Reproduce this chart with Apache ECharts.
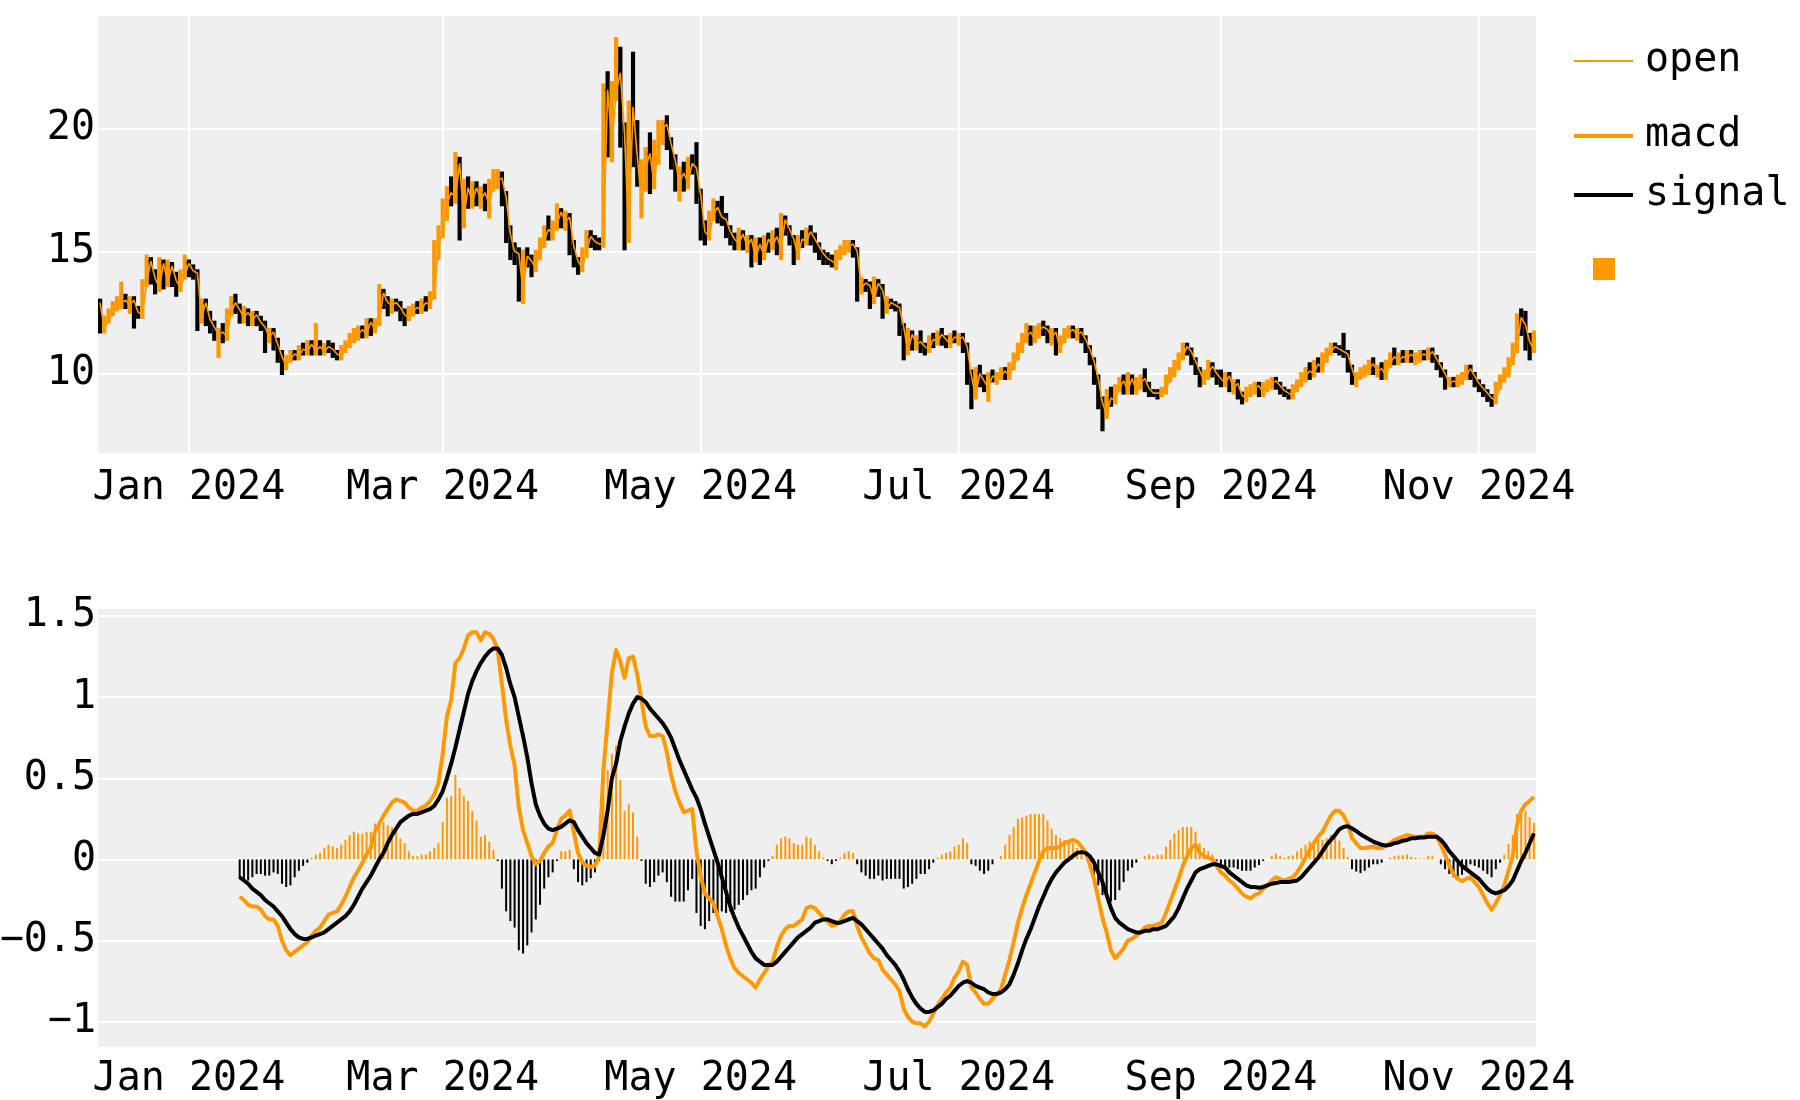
<!DOCTYPE html>
<html>
<head>
<meta charset="utf-8">
<script src="https://cdn.jsdelivr.net/npm/echarts@6.0.0/dist/echarts.min.js"></script>
<style>
html,body{margin:0;padding:0;background:#fff;}
#chart{width:1800px;height:1100px;}
</style>
</head>
<body>
<div id="chart"></div>
<script>
// ---------------- data ----------------
// daily bars, first bar 2023-12-11
const startDay = [2023, 11, 11];
const open = [
12.9,11.8,12.2,12.5,12.8,12.9,13.0,12.8,13.0,12.5,
12.4,13.7,14.6,13.9,13.5,14.5,13.7,14.4,13.8,13.5,
14.0,14.5,14.2,14.1,12.3,12.9,12.2,11.9,11.6,11.7,
11.5,12.5,12.9,12.6,12.3,12.5,12.2,12.4,12.1,11.9,
11.5,11.7,11.2,10.7,10.3,10.6,10.8,10.7,11.0,10.9,
11.2,10.9,11.1,10.9,11.1,11.0,10.8,10.7,11.0,11.2,
11.5,11.6,11.8,11.6,12.1,11.8,12.1,13.3,12.9,12.8,
12.9,12.7,12.4,12.3,12.6,12.7,12.6,12.9,12.8,13.2,
15.2,15.8,16.9,17.4,17.2,18.6,16.3,17.6,17.0,17.6,
17.1,17.4,16.9,17.8,17.9,18.0,17.2,15.7,15.0,14.9,
13.4,14.8,14.6,14.3,14.9,15.4,15.9,15.7,16.1,16.6,
16.2,16.4,15.2,14.6,14.3,15.0,15.6,15.4,15.3,15.3,
21.6,19.4,21.5,22.3,19.8,15.6,20.9,18.9,17.0,18.4,
19.0,17.7,19.3,20.0,20.2,19.4,18.7,17.8,18.2,17.8,
18.6,18.4,17.3,15.8,15.6,16.5,16.8,16.4,16.3,15.8,
15.5,15.3,15.7,15.2,15.5,14.7,15.3,14.8,15.5,15.2,
15.6,15.1,16.3,15.9,15.5,14.8,15.5,15.4,15.8,15.5,
15.2,14.9,14.7,14.6,14.5,14.9,15.1,15.2,15.3,15.0,
13.5,13.7,13.6,13.0,13.7,13.4,12.6,12.9,12.8,12.7,
11.9,10.9,11.6,11.2,11.3,11.1,11.0,11.4,11.3,11.6,
11.4,11.2,11.5,11.4,11.5,11.1,9.9,9.1,10.0,9.7,
9.4,9.9,9.8,9.9,10.1,9.9,10.3,10.7,11.1,11.5,
11.7,11.4,11.8,11.9,11.8,11.5,11.7,11.0,11.4,11.7,
11.8,11.6,11.7,11.4,11.0,10.5,9.8,8.8,8.3,9.0,
8.9,9.4,9.7,9.3,9.8,9.3,9.6,9.8,9.4,9.2,
9.2,9.2,9.3,9.8,10.1,10.4,10.7,11.1,10.9,10.5,
10.1,9.7,10.0,10.3,10.0,9.8,9.6,9.9,9.4,9.6,
9.1,9.0,9.3,9.4,9.5,9.2,9.5,9.6,9.7,9.5,
9.3,9.2,9.1,9.4,9.6,9.9,10.1,10.0,10.4,10.2,
10.7,10.9,11.1,11.0,10.9,10.8,10.2,9.7,9.9,10.1,
10.2,10.4,10.1,10.2,9.9,10.4,10.7,10.5,10.7,10.6,
10.8,10.6,10.7,10.8,10.7,10.9,10.6,10.3,10.0,9.6,
9.7,9.6,9.8,9.9,10.2,9.9,9.6,9.4,9.2,9.0,
8.9,9.5,9.8,10.0,10.5,11.0,12.3,12.0,11.3,11.0
];
const high = [
13.0,12.3,12.6,12.9,13.1,13.7,13.2,13.1,13.1,12.7,
13.8,14.8,14.7,14.2,14.7,14.6,14.6,14.5,14.1,14.2,
14.8,14.6,14.4,14.2,13.0,13.0,12.5,12.1,11.8,12.0,
12.6,13.1,13.2,12.8,12.7,12.6,12.5,12.5,12.3,12.1,
11.8,11.8,11.4,10.9,10.7,10.9,10.9,11.1,11.2,11.3,
11.3,12.0,11.3,11.2,11.3,11.2,10.9,11.1,11.3,11.6,
11.8,11.9,11.9,12.2,12.2,12.2,13.6,13.4,13.1,13.0,
13.0,12.9,12.6,12.7,12.8,12.9,13.0,13.1,13.3,15.4,
16.0,17.1,17.6,18.0,19.0,18.8,17.9,18.0,17.8,17.8,
17.6,17.7,17.9,18.3,18.3,18.2,17.4,16.0,15.3,15.1,
15.0,15.1,14.8,15.0,15.5,16.0,16.4,16.2,16.9,16.7,
16.6,16.5,15.4,14.7,15.1,15.8,15.8,15.6,15.5,21.8,
22.3,21.9,23.7,23.3,20.2,21.1,23.1,20.3,18.7,19.2,
19.8,19.5,20.3,20.3,20.5,19.6,18.9,18.4,18.6,18.8,
18.9,19.4,17.5,16.2,16.6,17.1,17.0,17.2,16.5,16.0,
15.7,15.9,15.8,15.6,15.6,15.5,15.5,15.6,15.7,15.8,
15.9,16.5,16.4,16.0,15.6,15.6,15.8,15.9,16.0,15.7,
15.3,15.0,14.9,14.8,15.0,15.2,15.4,15.4,15.4,15.1,
13.9,13.8,13.7,13.9,13.8,13.6,13.1,13.0,12.9,12.8,
12.0,11.8,11.7,11.5,11.7,11.2,11.5,11.6,11.7,11.8,
11.5,11.6,11.7,11.6,11.6,11.2,10.1,10.2,10.3,9.9,
10.0,10.1,10.0,10.2,10.2,10.4,10.8,11.2,11.6,12.0,
11.9,11.9,12.0,12.1,11.9,11.8,11.8,11.5,11.8,11.9,
11.9,11.8,11.8,11.5,11.1,10.6,9.9,9.0,9.3,9.4,
9.5,9.8,9.9,10.0,9.9,9.8,9.9,10.15,9.6,9.3,
9.3,9.4,9.9,10.2,10.5,10.8,11.2,11.2,11.0,10.6,
10.2,10.1,10.5,10.4,10.1,10.1,10.0,10.0,9.7,9.7,
9.2,9.4,9.5,9.6,9.6,9.6,9.7,9.8,9.8,9.6,
9.4,9.3,9.5,9.7,10.0,10.2,10.4,10.5,10.6,10.8,
11.0,11.2,11.2,11.1,11.6,10.9,10.3,10.0,10.2,10.3,
10.5,10.6,10.3,10.4,10.5,10.8,11.0,10.8,10.9,10.9,
10.9,10.8,10.9,10.9,11.0,11.0,10.7,10.4,10.1,9.8,
9.8,9.9,10.0,10.3,10.3,10.0,9.7,9.5,9.3,9.1,
9.6,9.9,10.2,10.6,11.2,12.4,12.6,12.5,11.6,11.7
];
const low = [
11.7,11.7,12.1,12.4,12.6,12.7,12.7,12.5,11.9,12.3,
12.3,13.6,13.7,13.3,13.4,13.5,13.6,13.6,13.2,13.4,
13.9,14.0,13.9,11.8,12.1,12.0,11.7,11.4,10.7,11.3,
11.4,12.4,12.5,12.1,12.1,12.0,12.0,12.0,11.8,10.9,
11.3,11.0,10.5,10.0,10.2,10.5,10.6,10.6,10.8,10.8,
10.8,10.8,10.8,10.8,10.9,10.7,10.6,10.6,10.9,11.1,
11.3,11.4,11.5,11.5,11.6,11.7,12.0,12.7,12.4,12.5,
12.6,12.2,12.0,12.2,12.4,12.5,12.5,12.6,12.7,13.1,
14.7,15.6,16.3,16.9,17.0,15.5,16.0,16.8,16.8,16.9,
16.8,16.7,16.4,17.5,17.6,16.9,15.4,14.7,14.5,13.0,
12.9,14.4,14.0,14.2,14.7,15.2,15.5,15.5,15.9,16.0,
15.9,14.9,14.4,14.1,14.2,14.8,15.2,15.1,15.1,15.2,
18.9,18.7,21.2,19.3,15.1,15.4,18.5,17.7,16.4,17.5,
17.4,17.6,18.6,19.4,19.2,18.4,17.5,17.1,17.5,17.6,
18.2,17.0,15.5,15.3,15.5,16.3,16.2,16.1,15.6,15.3,
15.1,15.1,15.1,15.0,14.4,14.6,14.5,14.7,15.0,15.1,
14.9,14.7,15.7,15.3,14.5,14.7,15.2,15.3,15.3,15.0,
14.7,14.5,14.5,14.4,14.3,14.7,14.9,15.0,14.8,13.0,
13.3,13.4,12.7,12.9,13.2,12.3,12.5,12.7,12.6,11.6,
10.6,10.8,11.0,11.0,10.9,10.8,10.9,11.1,11.2,11.2,
11.1,11.1,11.3,11.2,10.9,9.6,8.6,9.0,9.5,9.3,
8.9,9.7,9.6,9.8,9.8,9.8,10.2,10.6,10.9,11.3,
11.2,11.3,11.5,11.6,11.3,11.2,10.8,10.9,11.3,11.5,
11.5,11.4,11.3,10.9,10.4,9.6,8.6,7.7,8.2,8.7,
8.8,9.3,9.2,9.2,9.2,9.2,9.4,9.3,9.1,9.1,
9.0,9.1,9.2,9.7,9.9,10.2,10.6,10.8,10.4,10.0,
9.5,9.6,9.8,9.9,9.6,9.5,9.5,9.3,9.2,9.0,
8.8,8.9,9.1,9.2,9.1,9.1,9.3,9.4,9.4,9.2,
9.1,9.0,9.0,9.3,9.5,9.7,9.8,9.9,10.1,10.1,
10.5,10.8,10.9,10.8,10.7,10.1,9.6,9.5,9.8,9.9,
10.0,10.0,9.9,9.8,9.8,10.3,10.4,10.4,10.5,10.5,
10.5,10.4,10.5,10.6,10.6,10.5,10.2,9.9,9.4,9.5,
9.5,9.5,9.6,9.8,9.8,9.5,9.3,9.1,8.9,8.7,
8.8,9.4,9.7,9.9,10.4,10.9,11.6,11.0,10.6,10.9
];
const close = [
11.8,12.2,12.5,12.8,12.9,13.0,12.8,13.0,12.5,12.4,
13.7,14.6,13.9,13.5,14.5,13.7,14.4,13.8,13.5,14.0,
14.6,14.2,14.1,12.3,12.9,12.2,11.9,11.6,11.7,11.5,
12.5,12.9,12.6,12.3,12.5,12.2,12.4,12.1,11.9,11.5,
11.7,11.2,10.7,10.3,10.6,10.8,10.7,11.0,10.9,11.2,
10.9,11.1,10.9,11.1,11.0,10.8,10.7,11.0,11.2,11.5,
11.6,11.8,11.6,12.1,11.8,12.1,13.3,12.9,12.8,12.9,
12.7,12.4,12.3,12.6,12.7,12.6,12.9,12.8,13.2,15.2,
15.8,16.9,17.4,17.2,18.6,16.3,17.6,17.0,17.6,17.1,
17.4,16.9,17.8,17.9,18.0,17.2,15.7,15.0,14.9,13.4,
14.8,14.6,14.3,14.9,15.4,15.9,15.7,16.1,16.6,16.2,
16.4,15.2,14.6,14.3,15.0,15.6,15.4,15.3,15.3,21.6,
19.4,21.5,22.3,19.8,15.6,20.9,18.9,18.1,18.4,19.0,
17.7,19.3,20.0,20.2,19.4,18.7,17.8,18.2,17.8,18.6,
18.4,17.3,15.8,15.6,16.5,16.8,16.4,16.3,15.8,15.5,
15.3,15.7,15.2,15.5,14.7,15.3,14.8,15.5,15.2,15.6,
15.1,16.3,15.9,15.5,14.8,15.5,15.4,15.8,15.5,15.2,
14.9,14.7,14.6,14.5,14.9,15.1,15.2,15.3,15.0,13.5,
13.7,13.6,13.0,13.7,13.4,12.6,12.9,12.8,12.7,11.9,
10.9,11.6,11.2,11.3,11.1,11.0,11.4,11.3,11.6,11.4,
11.2,11.5,11.4,11.5,11.1,9.9,9.1,10.0,9.7,9.4,
9.9,9.8,9.9,10.1,9.9,10.3,10.7,11.1,11.5,11.7,
11.4,11.8,11.9,11.8,11.5,11.7,11.0,11.4,11.7,11.8,
11.6,11.7,11.4,11.0,10.5,9.8,8.8,8.3,9.0,8.9,
9.4,9.7,9.3,9.8,9.3,9.6,9.8,9.4,9.2,9.2,
9.2,9.3,9.8,10.1,10.4,10.7,11.1,10.9,10.5,10.1,
9.7,10.0,10.3,10.0,9.8,9.6,9.9,9.4,9.6,9.1,
9.0,9.3,9.4,9.5,9.2,9.5,9.6,9.7,9.5,9.3,
9.2,9.1,9.4,9.6,9.9,10.1,10.0,10.4,10.2,10.7,
10.9,11.1,11.0,10.9,10.8,10.2,9.7,9.9,10.1,10.2,
10.4,10.1,10.2,9.9,10.4,10.7,10.5,10.7,10.6,10.8,
10.6,10.7,10.8,10.7,10.9,10.6,10.3,10.0,9.6,9.7,
9.6,9.8,9.9,10.2,9.9,9.6,9.4,9.2,9.0,8.9,
9.5,9.8,10.0,10.5,11.0,12.3,12.0,11.3,11.0,11.6
];
// MACD panel values start at bar index 33 (2024-01-13)
const macdStart = 33;
const macd = [
-0.23,-0.25,-0.28,-0.29,-0.29,-0.31,-0.35,-0.37,-0.37,-0.41,
-0.50,-0.56,-0.59,-0.57,-0.55,-0.53,-0.51,-0.47,-0.44,-0.42,
-0.38,-0.34,-0.33,-0.32,-0.28,-0.23,-0.17,-0.11,-0.07,-0.02,
0.03,0.07,0.17,0.22,0.27,0.31,0.35,0.37,0.36,0.35,
0.32,0.30,0.30,0.32,0.33,0.36,0.40,0.47,0.65,0.88,
0.98,1.21,1.24,1.30,1.38,1.40,1.40,1.35,1.40,1.39,
1.36,1.29,1.08,0.86,0.70,0.58,0.32,0.18,0.10,0.02,
-0.03,-0.01,0.04,0.08,0.10,0.18,0.25,0.27,0.30,0.17,
0.04,-0.02,-0.04,-0.045,-0.04,0.02,0.55,0.85,1.15,1.29,
1.22,1.12,1.24,1.25,1.14,0.98,0.82,0.76,0.76,0.77,
0.76,0.66,0.52,0.42,0.35,0.29,0.30,0.31,0.05,-0.10,
-0.21,-0.24,-0.27,-0.35,-0.43,-0.53,-0.61,-0.67,-0.70,-0.72,
-0.74,-0.76,-0.79,-0.74,-0.70,-0.66,-0.63,-0.54,-0.47,-0.43,
-0.41,-0.41,-0.39,-0.37,-0.30,-0.29,-0.30,-0.33,-0.36,-0.38,
-0.41,-0.40,-0.38,-0.34,-0.32,-0.32,-0.41,-0.48,-0.53,-0.58,
-0.61,-0.62,-0.68,-0.71,-0.74,-0.77,-0.81,-0.92,-0.97,-1.00,
-1.01,-1.01,-1.03,-1.00,-0.95,-0.90,-0.86,-0.82,-0.79,-0.73,
-0.69,-0.63,-0.65,-0.79,-0.82,-0.86,-0.89,-0.89,-0.86,-0.83,
-0.80,-0.71,-0.62,-0.51,-0.39,-0.30,-0.22,-0.15,-0.08,-0.01,
0.05,0.07,0.07,0.07,0.08,0.10,0.11,0.12,0.11,0.08,
0.04,-0.03,-0.12,-0.24,-0.36,-0.45,-0.56,-0.61,-0.58,-0.55,
-0.50,-0.49,-0.47,-0.45,-0.42,-0.41,-0.41,-0.40,-0.39,-0.33,
-0.26,-0.19,-0.12,-0.04,0.02,0.07,0.09,0.04,0.02,0.01,
0.00,-0.04,-0.08,-0.10,-0.13,-0.15,-0.18,-0.21,-0.23,-0.24,
-0.22,-0.21,-0.18,-0.16,-0.13,-0.11,-0.12,-0.13,-0.12,-0.11,
-0.08,-0.04,0.01,0.06,0.10,0.14,0.17,0.22,0.27,0.30,
0.30,0.27,0.22,0.13,0.10,0.07,0.07,0.075,0.08,0.07,
0.07,0.085,0.10,0.12,0.13,0.14,0.15,0.145,0.14,0.14,
0.14,0.16,0.16,0.14,0.09,0.03,-0.04,-0.09,-0.12,-0.135,
-0.12,-0.11,-0.14,-0.17,-0.22,-0.27,-0.31,-0.27,-0.22,-0.16,
-0.07,0.02,0.21,0.30,0.34,0.36,0.385
];
const signal = [
-0.11,-0.13,-0.15,-0.18,-0.20,-0.22,-0.25,-0.27,-0.29,-0.32,
-0.35,-0.39,-0.43,-0.46,-0.48,-0.49,-0.49,-0.48,-0.47,-0.46,
-0.45,-0.43,-0.41,-0.39,-0.37,-0.35,-0.32,-0.28,-0.23,-0.18,
-0.14,-0.10,-0.05,0.00,0.04,0.10,0.15,0.19,0.23,0.25,
0.27,0.28,0.28,0.29,0.30,0.31,0.33,0.37,0.42,0.50,
0.59,0.69,0.80,0.91,1.02,1.10,1.16,1.21,1.25,1.28,
1.30,1.30,1.26,1.18,1.08,1.00,0.88,0.76,0.63,0.47,
0.34,0.27,0.22,0.19,0.18,0.19,0.20,0.22,0.24,0.23,
0.18,0.14,0.10,0.07,0.04,0.03,0.15,0.30,0.50,0.59,
0.73,0.82,0.90,0.96,1.00,0.99,0.97,0.93,0.90,0.87,
0.84,0.80,0.75,0.68,0.61,0.55,0.49,0.43,0.38,0.31,
0.22,0.14,0.06,-0.02,-0.11,-0.20,-0.29,-0.36,-0.42,-0.47,
-0.52,-0.57,-0.61,-0.63,-0.65,-0.65,-0.65,-0.63,-0.60,-0.57,
-0.54,-0.51,-0.48,-0.46,-0.44,-0.42,-0.39,-0.38,-0.37,-0.37,
-0.38,-0.39,-0.39,-0.38,-0.37,-0.36,-0.38,-0.40,-0.43,-0.46,
-0.49,-0.52,-0.55,-0.59,-0.62,-0.65,-0.69,-0.74,-0.80,-0.85,
-0.89,-0.92,-0.94,-0.94,-0.93,-0.91,-0.89,-0.86,-0.84,-0.81,
-0.78,-0.76,-0.75,-0.76,-0.78,-0.79,-0.80,-0.82,-0.83,-0.83,
-0.82,-0.80,-0.77,-0.71,-0.64,-0.56,-0.49,-0.43,-0.36,-0.29,
-0.23,-0.17,-0.12,-0.08,-0.05,-0.02,0.00,0.02,0.04,0.045,
0.04,0.02,-0.02,-0.08,-0.14,-0.22,-0.30,-0.36,-0.39,-0.41,
-0.43,-0.44,-0.45,-0.45,-0.44,-0.44,-0.43,-0.43,-0.42,-0.41,
-0.38,-0.35,-0.30,-0.24,-0.18,-0.13,-0.08,-0.06,-0.05,-0.04,
-0.03,-0.03,-0.04,-0.05,-0.08,-0.10,-0.12,-0.14,-0.16,-0.17,
-0.17,-0.175,-0.17,-0.16,-0.15,-0.145,-0.14,-0.14,-0.14,-0.135,
-0.13,-0.11,-0.08,-0.05,-0.02,0.01,0.05,0.09,0.12,0.15,
0.185,0.20,0.205,0.19,0.175,0.155,0.14,0.125,0.11,0.10,
0.09,0.085,0.09,0.10,0.105,0.115,0.12,0.13,0.13,0.135,
0.135,0.14,0.14,0.14,0.12,0.09,0.05,0.02,-0.01,-0.04,
-0.06,-0.08,-0.10,-0.12,-0.15,-0.18,-0.20,-0.21,-0.20,-0.19,
-0.165,-0.13,-0.07,-0.01,0.04,0.10,0.16
];
const hist = [
-0.12,-0.12,-0.13,-0.11,-0.09,-0.09,-0.10,-0.10,-0.08,-0.09,
-0.15,-0.17,-0.16,-0.11,-0.07,-0.04,-0.02,0.01,0.03,0.04,
0.07,0.09,0.08,0.07,0.09,0.12,0.15,0.17,0.16,0.16,
0.17,0.17,0.22,0.22,0.23,0.21,0.20,0.18,0.13,0.10,
0.05,0.02,0.02,0.03,0.03,0.05,0.07,0.10,0.23,0.38,
0.39,0.52,0.44,0.39,0.36,0.30,0.24,0.14,0.15,0.11,
0.06,-0.01,-0.18,-0.32,-0.38,-0.42,-0.56,-0.58,-0.53,-0.45,
-0.37,-0.28,-0.18,-0.11,-0.08,-0.01,0.05,0.05,0.06,-0.06,
-0.14,-0.16,-0.14,-0.115,-0.08,-0.01,0.40,0.55,0.65,0.70,
0.49,0.30,0.34,0.29,0.14,-0.01,-0.15,-0.17,-0.14,-0.10,
-0.08,-0.14,-0.23,-0.26,-0.26,-0.26,-0.19,-0.12,-0.33,-0.41,
-0.43,-0.38,-0.33,-0.33,-0.32,-0.33,-0.32,-0.31,-0.28,-0.25,
-0.22,-0.19,-0.18,-0.11,-0.05,-0.01,0.02,0.09,0.13,0.14,
0.13,0.10,0.09,0.09,0.14,0.13,0.09,0.05,0.01,-0.01,
-0.03,-0.01,0.01,0.04,0.05,0.04,-0.03,-0.08,-0.10,-0.12,
-0.12,-0.10,-0.13,-0.12,-0.12,-0.12,-0.12,-0.18,-0.17,-0.15,
-0.12,-0.09,-0.09,-0.06,-0.02,0.01,0.03,0.04,0.05,0.08,
0.09,0.13,0.10,-0.03,-0.04,-0.07,-0.09,-0.07,-0.03,0.00,
0.02,0.09,0.15,0.20,0.25,0.26,0.27,0.28,0.28,0.28,
0.28,0.24,0.19,0.15,0.13,0.12,0.11,0.10,0.07,0.035,
0.00,-0.05,-0.10,-0.16,-0.22,-0.23,-0.26,-0.25,-0.19,-0.14,
-0.07,-0.05,-0.02,0.00,0.02,0.03,0.02,0.03,0.03,0.08,
0.12,0.16,0.18,0.20,0.20,0.20,0.17,0.10,0.07,0.05,
0.03,-0.01,-0.04,-0.05,-0.05,-0.05,-0.06,-0.07,-0.07,-0.07,
-0.05,-0.035,-0.01,0.00,0.02,0.035,0.02,0.01,0.02,0.025,
0.05,0.07,0.09,0.11,0.12,0.13,0.12,0.13,0.15,0.15,
0.115,0.07,0.015,-0.06,-0.075,-0.085,-0.07,-0.05,-0.03,-0.03,
-0.02,0.00,0.01,0.02,0.025,0.025,0.03,0.015,0.01,0.005,
0.005,0.02,0.02,0.00,-0.03,-0.06,-0.09,-0.11,-0.11,-0.095,
-0.06,-0.03,-0.04,-0.05,-0.07,-0.09,-0.11,-0.06,-0.02,0.03,
0.095,0.15,0.28,0.31,0.30,0.26,0.225
];
// axis ticks
const xTickDays = [[2024,0,1],[2024,2,1],[2024,4,1],[2024,6,1],[2024,8,1],[2024,10,1]];
const xTickLabels = ['Jan 2024','Mar 2024','May 2024','Jul 2024','Sep 2024','Nov 2024'];
const priceTicks = [10, 15, 20];
const priceTickLabels = ['10', '15', '20'];
const macdTicks = [-1, -0.5, 0, 0.5, 1, 1.5];
const macdTickLabels = ['\u22121', '\u22120.5', '0', '0.5', '1', '1.5'];

// ---------------- chart ----------------
const FONT = 'DejaVu Sans Mono';
const ORANGE = '#ff9900';
const BLACK = '#000000';
const PLOTBG = '#efefef';

const dayTs = (y, m, d, h) => new Date(y, m, d, h || 0).getTime();
const dates = open.map((_, i) => dayTs(startDay[0], startDay[1], startDay[2] + i));
const xTicks = xTickDays.map(d => dayTs(d[0], d[1], d[2]));
const xMin = dayTs(2023, 11, 10, 12);
const xMax = dayTs(2024, 10, 14, 12);

const ohlcData = dates.map((t, i) => [t, open[i], high[i], low[i], close[i]]);
const openLine = dates.map((t, i) => [t, open[i]]);
const mDates = dates.slice(macdStart);
const macdData = mDates.map((t, i) => [t, macd[i]]);
const signalData = mDates.map((t, i) => [t, signal[i]]);
const histData = mDates.map((t, i) => [t, hist[i]]);

const labelText = (vals, labels) => v => {
  for (let i = 0; i < vals.length; i++) if (Math.abs(vals[i] - v) < 1e-6) return labels[i];
  return '';
};
const xFmt = v => {
  for (let i = 0; i < xTicks.length; i++) if (Math.abs(xTicks[i] - v) < 3600000) return xTickLabels[i];
  return '';
};
const txt = { fontFamily: FONT, fontSize: 40, color: '#000', lineHeight: 40 };
const gridLine = { show: true, lineStyle: { color: '#ffffff', width: 2 } };

function xAxis(gi, withGrid, margin) {
  return {
    type: 'value', gridIndex: gi, min: xMin, max: xMax, scale: true,
    axisLine: { show: false },
    axisTick: { show: false, customValues: xTicks },
    axisLabel: Object.assign({ customValues: xTicks, formatter: xFmt, margin: margin, hideOverlap: false }, txt),
    splitLine: withGrid ? gridLine : { show: false },
    axisPointer: { show: false }
  };
}
function yAxis(gi, min, max, ticks, labels, margin) {
  return {
    type: 'value', gridIndex: gi, min: min, max: max,
    axisLine: { show: false },
    axisTick: { show: false, customValues: ticks },
    axisLabel: Object.assign({ customValues: ticks, formatter: labelText(ticks, labels), margin: margin, padding: [6, 0, 0, 0] }, txt),
    splitLine: gridLine
  };
}
const legendText = Object.assign({ padding: [0, 0, 0, 7] }, txt);

const chart = echarts.init(document.getElementById('chart'), null, { renderer: 'canvas' });
chart.setOption({
  animation: false,
  backgroundColor: '#ffffff',
  textStyle: { fontFamily: FONT },
  grid: [
    { left: 98, top: 16, width: 1438, height: 437, show: true, backgroundColor: PLOTBG, borderWidth: 0,
      containLabel: false, outerBoundsMode: 'none' },
    { left: 98, top: 609, width: 1438, height: 438, show: true, backgroundColor: PLOTBG, borderWidth: 0,
      containLabel: false, outerBoundsMode: 'none' }
  ],
  xAxis: [xAxis(0, true, 16), xAxis(1, false, 13)],
  yAxis: [
    yAxis(0, 6.75, 24.62, priceTicks, priceTickLabels, 3),
    yAxis(1, -1.156, 1.543, macdTicks, macdTickLabels, 2)
  ],
  legend: [
    { data: [{ name: 'open', icon: 'rect' }], left: 1574, top: 41, padding: 0, orient: 'vertical',
      itemWidth: 59, itemHeight: 2, textStyle: legendText, selectedMode: false },
    { data: [{ name: 'macd', icon: 'rect' }, { name: 'signal', icon: 'rect' }], left: 1574, top: 116, padding: 0, orient: 'vertical',
      itemGap: 19, itemWidth: 59, itemHeight: 4, textStyle: legendText, selectedMode: false },
    { data: [{ name: 'hist', icon: 'rect', itemStyle: { color: ORANGE } }], left: 1593, top: 258, padding: 0, orient: 'vertical',
      itemWidth: 22, itemHeight: 22, formatter: () => '', textStyle: txt, selectedMode: false }
  ],
  series: [
    {
      name: 'ohlc', type: 'custom', xAxisIndex: 0, yAxisIndex: 0, clip: true,
      encode: { x: 0, y: [1, 2, 3, 4] },
      data: ohlcData,
      renderItem: function (params, api) {
        const t = api.value(0), o = api.value(1), h = api.value(2), l = api.value(3), c = api.value(4);
        const pH = api.coord([t, h]), pL = api.coord([t, l]);
        const pO = api.coord([t, o]), pC = api.coord([t, c]);
        const col = c > o ? ORANGE : BLACK;
        return {
          type: 'group',
          children: [
            { type: 'line', shape: { x1: pH[0], y1: pH[1] - 1.5, x2: pL[0], y2: pL[1] + 1.5 }, style: { stroke: col, lineWidth: 4.2 } },
            { type: 'line', shape: { x1: pO[0] - 2.2, y1: pO[1], x2: pO[0], y2: pO[1] }, style: { stroke: col, lineWidth: 2.5 } },
            { type: 'line', shape: { x1: pC[0], y1: pC[1], x2: pC[0] + 2.2, y2: pC[1] }, style: { stroke: col, lineWidth: 2.5 } }
          ]
        };
      },
      z: 2
    },
    {
      name: 'open', type: 'line', xAxisIndex: 0, yAxisIndex: 0, data: openLine,
      symbol: 'none', color: ORANGE, lineStyle: { color: ORANGE, width: 1.6 }, z: 3
    },
    {
      // histogram drawn as custom bars so the value x-axis keeps its exact extent
      name: 'hist', type: 'custom', xAxisIndex: 1, yAxisIndex: 1, clip: true,
      encode: { x: 0, y: 1 },
      data: histData, color: ORANGE,
      renderItem: function (params, api) {
        const t = api.value(0), v = api.value(1);
        const p0 = api.coord([t, 0]), p1 = api.coord([t, v]);
        const y = Math.min(p0[1], p1[1]), hgt = Math.abs(p1[1] - p0[1]);
        return {
          type: 'rect',
          shape: { x: p0[0] - 1, y: y, width: 2, height: hgt },
          style: { fill: v >= 0 ? ORANGE : BLACK }
        };
      },
      z: 2
    },
    {
      name: 'macd', type: 'line', xAxisIndex: 1, yAxisIndex: 1, data: macdData,
      symbol: 'none', color: ORANGE, lineStyle: { color: ORANGE, width: 4, join: 'round' }, z: 3
    },
    {
      name: 'signal', type: 'line', xAxisIndex: 1, yAxisIndex: 1, data: signalData,
      symbol: 'none', color: BLACK, lineStyle: { color: BLACK, width: 4, join: 'round' }, z: 4
    }
  ]
});
</script>
</body>
</html>
